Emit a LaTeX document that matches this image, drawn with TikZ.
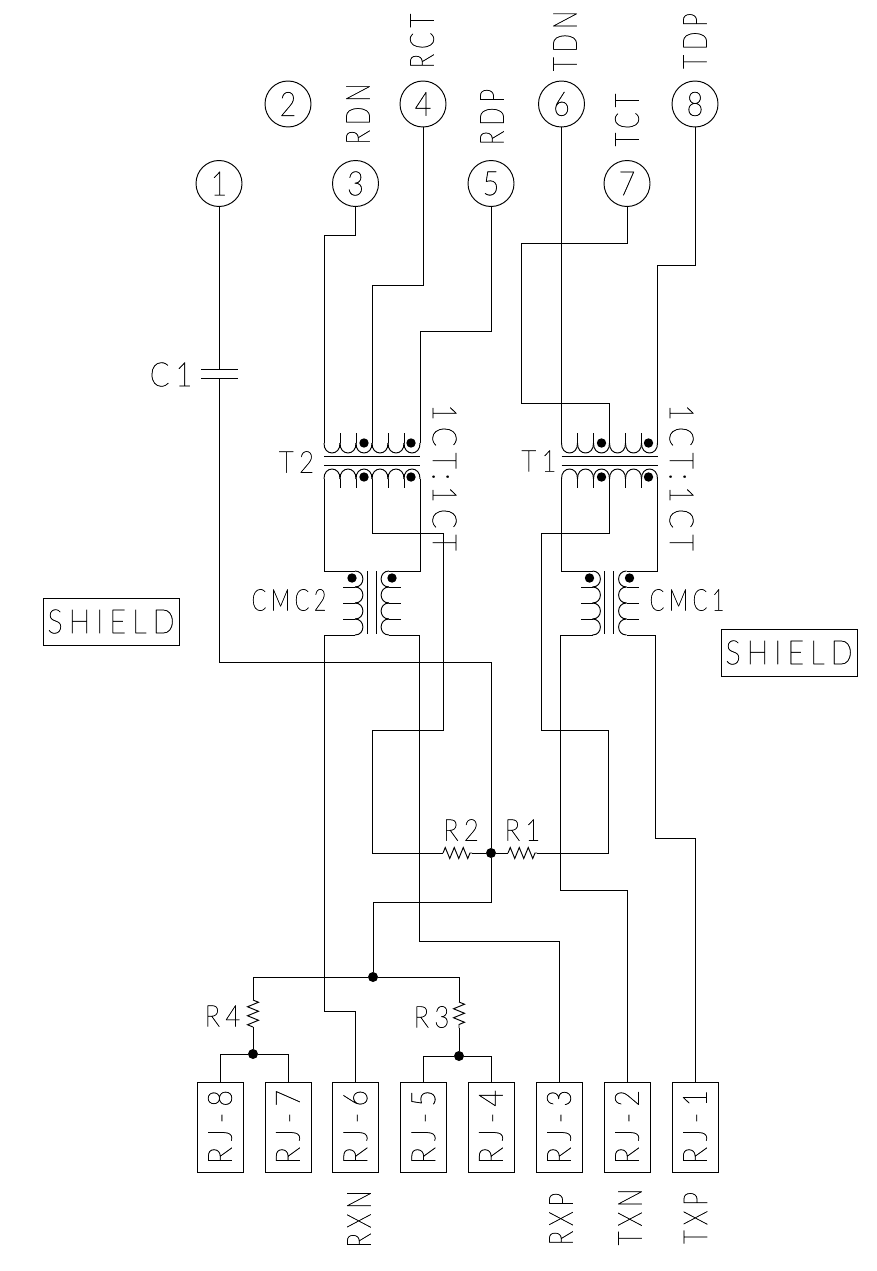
\documentclass[tikz,border=0pt]{standalone}
\usepackage{fontspec}
\usetikzlibrary{decorations.pathmorphing}
\newfontfamily\cadfont[LetterSpace=18,FakeStretch=0.86,FakeBold=1.2]{Lato Hairline}
\newfontfamily\cadnarrow[LetterSpace=15,FakeStretch=0.72,FakeBold=1.2]{Lato Hairline}

\newcommand{\cadbig}{\cadfont\fontsize{33.5}{34}\selectfont}
\newcommand{\cadsmall}{\cadfont\fontsize{30}{30}\selectfont}

\tikzset{
  wire/.style={line width=0.95pt,line join=miter},
  pinc/.style={circle,draw,line width=0.95pt,fill=white,minimum size=46pt,inner sep=0pt,font=\cadbig},
  rjbox/.style={draw,line width=0.95pt,fill=white,minimum width=90pt,minimum height=46pt,inner sep=0pt,rotate=90,font=\cadbig},
  shbox/.style={draw,line width=0.95pt,minimum width=136pt,minimum height=47pt,inner sep=0pt,font=\cadbig},
  cadtxt/.style={inner sep=0pt,font=\cadbig},
  cadsm/.style={inner sep=0pt,font=\cadsmall},
  cadsig/.style={inner sep=0pt,rotate=90,font=\cadnarrow\fontsize{33.5}{34}\selectfont},
  cadcmc/.style={inner sep=0pt,font=\cadnarrow\fontsize{30}{30}\selectfont},
  dotj/.style={circle,fill=black,minimum size=10pt,inner sep=0pt},
  rzig/.style={wire,decorate,decoration={zigzag,segment length=9pt,amplitude=5.5pt}},
  xfmr/.pic={
    \foreach \x in {-48,-32,-16,0,16,32} {
      \draw[wire] (\x,-18) .. controls (\x-0.5,-4.7) and (\x+16.5,-4.7) .. (\x+16,-18);
      \draw[wire] (\x,18) .. controls (\x-0.5,4.7) and (\x+16.5,4.7) .. (\x+16,18);
    }
    \foreach \x in {-32,-16,16,32} {
      \draw[wire] (\x,-18) -- (\x,-28);
      \draw[wire] (\x,18) -- (\x,27);
    }
    \draw[wire] (-48,-5) -- (48,-5);
    \draw[wire] (-48,4) -- (48,4);
    \foreach \x in {-8,39} {
      \fill (\x,-18) circle[radius=4.7];
      \fill (\x,16) circle[radius=4.7];
    }
    \coordinate (ta) at (-48,-18);
    \coordinate (tb) at (0,-18);
    \coordinate (tc) at (48,-18);
    \coordinate (ba) at (-48,18);
    \coordinate (bb) at (0,18);
    \coordinate (bc) at (48,18);
  },
  choke/.pic={
    \foreach \y in {-32,-16,0,16} {
      \draw[wire] (-17,\y) .. controls (-6.5,\y) and (-6.5,\y+16) .. (-17,\y+16);
      \draw[wire] (17,\y) .. controls (6.5,\y) and (6.5,\y+16) .. (17,\y+16);
    }
    \foreach \y in {-16,0,16} {
      \draw[wire] (-17,\y) -- (-29,\y);
      \draw[wire] (17,\y) -- (29,\y);
    }
    \draw[wire] (-5,-32) -- (-5,31);
    \draw[wire] (4,-32) -- (4,31);
    \fill (-20,-25) circle[radius=4.7];
    \fill (20,-25) circle[radius=4.7];
    \coordinate (ta) at (-17,-32);
    \coordinate (tc) at (17,-32);
    \coordinate (ba) at (-17,32);
    \coordinate (bc) at (17,32);
  }
}

\begin{document}
\begin{tikzpicture}[x=1pt,y=-1pt]
        \useasboundingbox (0,0) rectangle (877,1271);

        % bends and ends of the wires
        \coordinate (w3) at (324,235);
        \coordinate (w4) at (372,285);
        \coordinate (w5) at (420,331);
        \coordinate (w7a) at (521,243);
        \coordinate (w7b) at (609.5,403);
        \coordinate (w8) at (657.5,265);
        \coordinate (w2e) at (443,533);
        \coordinate (w2g) at (372.5,730);
        \coordinate (w1e) at (541,533);
        \coordinate (w1g) at (608,730);
        \coordinate (w1h) at (541,730);
        \coordinate (wc1) at (491,662);
        \coordinate (wgnd) at (373,902);
        \coordinate (wrxn) at (324,1011);
        \coordinate (wrxp) at (419,941);
        \coordinate (wtxn) at (560,890);
        \coordinate (wtxp) at (655,838);
        \coordinate (c1a) at (219,369);
        \coordinate (c1b) at (219,378);
        \coordinate (r2a) at (443,853);
        \coordinate (r2b) at (472,853);
        \coordinate (r1a) at (508,853);
        \coordinate (r1b) at (537,853);
        \coordinate (r4a) at (253,1000);
        \coordinate (r4b) at (253,1027);
        \coordinate (r3a) at (459,1002);
        \coordinate (r3b) at (459,1028);

        \pic (t2) at (372,461) {xfmr};
        \pic (t1) at (609.5,461) {xfmr};
        \pic (cmc2) at (372,603) {choke};
        \pic (cmc1) at (609.5,603) {choke};

        \node[pinc] (p1) at (219,183.5) {1};
        \node[pinc] (p2) at (288,104) {2};
        \node[pinc] (p3) at (355.5,183.5) {3};
        \node[pinc] (p4) at (423,104) {4};
        \node[pinc] (p5) at (491,183.5) {5};
        \node[pinc] (p6) at (561.5,104) {6};
        \node[pinc] (p7) at (627,183.5) {7};
        \node[pinc] (p8) at (695,104) {8};

        \node[rjbox] (rj8) at (220,1127) {RJ-8};
        \node[rjbox] (rj7) at (288,1127) {RJ-7};
        \node[rjbox] (rj6) at (355.5,1127) {RJ-6};
        \node[rjbox] (rj5) at (423.5,1127) {RJ-5};
        \node[rjbox] (rj4) at (491,1127) {RJ-4};
        \node[rjbox] (rj3) at (559,1127) {RJ-3};
        \node[rjbox] (rj2) at (627,1127) {RJ-2};
        \node[rjbox] (rj1) at (695,1127) {RJ-1};

        \node[dotj] (j1) at (491,853) {};
        \node[dotj] (j2) at (373,977) {};
        \node[dotj] (j3) at (253,1054) {};
        \node[dotj] (j4) at (459,1056) {};

        % upper side
        \draw[wire] (p3) |- (w3) -- (t2ta);
        \draw[wire] (p4) |- (w4) -- (t2tb);
        \draw[wire] (p5) |- (w5) -- (t2tc);
        \draw[wire] (p6) -- (t1ta);
        \draw[wire] (p7) |- (w7a) |- (w7b) -- (t1tb);
        \draw[wire] (p8) |- (w8) -- (t1tc);

        % shield path and C1
        \draw[wire] (p1) -- (c1a);
        \draw[wire] (201,369) -- (238,369);
        \draw[wire] (201,378) -- (238,378);
        \draw[wire] (c1b) |- (wc1) -- (j1);
        \draw[wire] (j1) |- (wgnd) -- (j2);

        % transformers to chokes
        \draw[wire] (t2ba) |- (cmc2ta);
        \draw[wire] (t2bc) |- (cmc2tc);
        \draw[wire] (t1ba) |- (cmc1ta);
        \draw[wire] (t1bc) |- (cmc1tc);

        % centre taps
        \draw[wire] (t2bb) |- (w2e) |- (w2g) |- (r2a);
        \draw[rzig] (r2a) -- (r2b);
        \draw[wire] (r2b) -- (j1);
        \draw[wire] (j1) -- (r1a);
        \draw[rzig] (r1a) -- (r1b);
        \draw[wire] (r1b) -| (w1g) -- (w1h) |- (w1e -| t1bb) -- (t1bb);

        % to the jack
        \draw[wire] (cmc2ba) -| (wrxn) -| (rj6.east);
        \draw[wire] (cmc2bc) -| (wrxp) -| (rj3.east);
        \draw[wire] (cmc1ba) -| (wtxn) -| (rj2.east);
        \draw[wire] (cmc1bc) -| (wtxp) -| (rj1.east);

        % terminations
        \draw[wire] (j2) -| (r4a);
        \draw[wire] (j2) -| (r3a);
        \draw[rzig] (r4a) -- (r4b);
        \draw[rzig] (r3a) -- (r3b);
        \draw[wire] (r4b) -- (j3);
        \draw[wire] (r3b) -- (j4);
        \draw[wire] (j3) -| (rj8.east);
        \draw[wire] (j3) -| (rj7.east);
        \draw[wire] (j4) -| (rj5.east);
        \draw[wire] (j4) -| (rj4.east);

        \node[shbox] (sh1) at (111,621.5) {SHIELD};
        \node[shbox] (sh2) at (789,652.5) {SHIELD};

        \node[cadsig] (lrct) at (422,41) {RCT};
        \node[cadsig] (lrdn) at (358,114) {RDN};
        \node[cadsig] (lrdp) at (492,117) {RDP};
        \node[cadsig] (ltdn) at (565,41) {TDN};
        \node[cadsig] (ltct) at (627,120) {TCT};
        \node[cadsig] (ltdp) at (695,41) {TDP};
        \node[cadsig] (lrxn) at (359,1219) {RXN};
        \node[cadsig] (lrxp) at (561,1219) {RXP};
        \node[cadsig] (ltxn) at (630,1217) {TXN};
        \node[cadsig] (ltxp) at (695.5,1218) {TXP};
        \node[cadtxt,rotate=-90] (lct2) at (444.5,477.5) {1CT:1CT};
        \node[cadtxt,rotate=-90] (lct1) at (681.5,477.5) {1CT:1CT};
        \node[cadtxt] (lc1) at (171,374.5) {C1};
        \node[cadsm] (lt2) at (296.5,462) {T2};
        \node[cadsm] (lt1) at (539,461) {T1};
        \node[cadcmc] (lcmc2) at (289,600) {CMC2};
        \node[cadcmc] (lcmc1) at (687,600) {CMC1};
        \node[cadsm] (lr2) at (461,830) {R2};
        \node[cadsm] (lr1) at (522.5,830) {R1};
        \node[cadsm] (lr4) at (222.5,1016) {R4};
        \node[cadsm] (lr3) at (431.5,1017) {R3};
    \end{tikzpicture}
\end{document}
